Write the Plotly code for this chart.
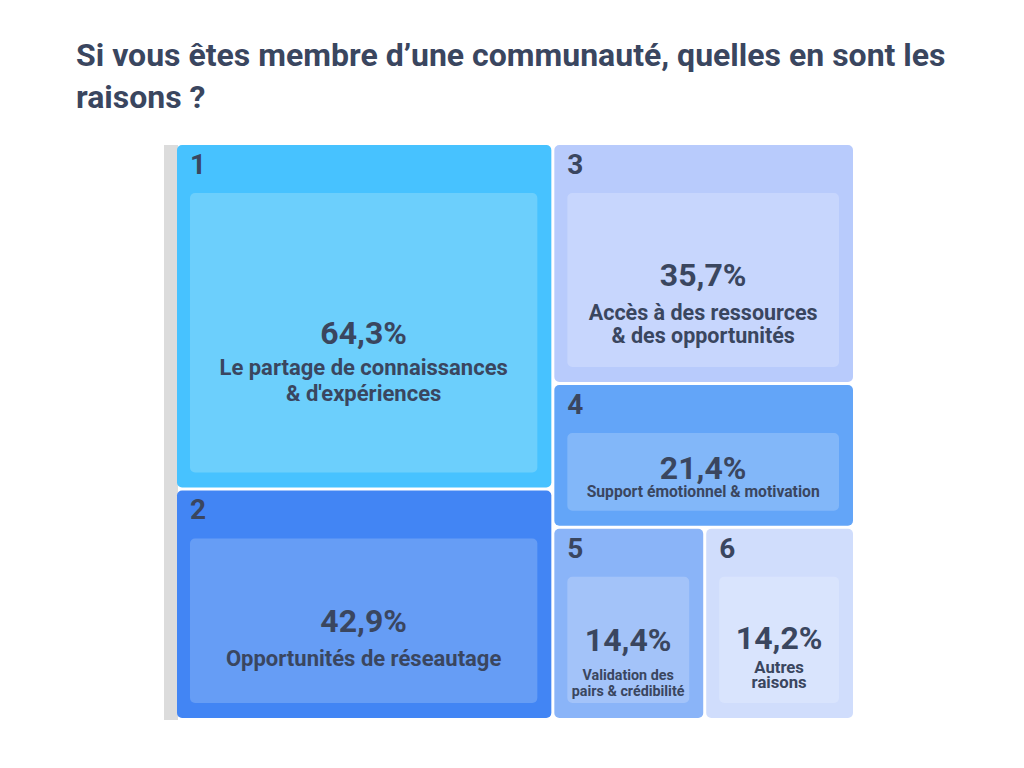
import plotly.graph_objects as go

# ---- data ----
ranks = ["1", "2", "3", "4", "5", "6"]
pcts = [64.3, 42.9, 35.7, 21.4, 14.4, 14.2]
pct_labels = ["64,3%", "42,9%", "35,7%", "21,4%", "14,4%", "14,2%"]
reasons = [
    "Le partage de connaissances<br>& d'expériences",
    "Opportunités de réseautage",
    "Accès à des ressources<br>& des opportunités",
    "Support émotionnel & motivation",
    "Validation des<br>pairs & crédibilité",
    "Autres<br>raisons",
]
title_text = "Si vous êtes membre d’une communauté, quelles en sont les<br>raisons ?"

# ---- styles ----
tile_colors = ["#47C2FF", "#4285F4", "#B8CBFC", "#63A5F8", "#8AB4F8", "#D0DDFC"]
inner_colors = ["#6CCFFC", "#669DF5", "#C7D6FD", "#82B7F9", "#A3C3F9", "#D9E4FD"]
reason_sizes = [22, 22, 21.5, 15.7, 14.3, 16.7]   # px
gap_first = [31, 33, 34, 19, 28, 24]               # px, pct baseline -> first label baseline
gap_next = [26, 26, 23, 16, 15, 16.5]              # px, between label lines
centre_adj = [0, 0, -10, -10, 0, -4]               # px, fine vertical tuning of each block
pct_size = 32
num_size = 28
text_color = "#3A465F"
clear = "rgba(0,0,0,0)"
font_family = "Roboto"
BASE = 2.0                 # tiny base font -> fine line steps
STEP = 1.3 * BASE          # plotly line spacing


def spacer(px):
    """transparent tiny glyph lines giving `px` pixels of vertical advance"""
    n = max(1, round(px / STEP))
    return "<br>".join([f"<span style='font-size:{BASE}px;color:{clear}'>.</span>"] * n) + "<br>"


def body(pct, reason, L, g1, g2, adj):
    lines = reason.split("<br>")
    k = len(lines)
    up = 22.8 + g1 + (k - 1) * g2 - 0.683 * L + adj   # keep the % line centred in the tile
    out = f"<span style='font-size:{L}px;color:{clear}'>.</span><br>" + spacer(up - STEP)
    out += f"<span style='font-size:{pct_size}px'>{pct}</span><br>" + spacer(g1 - STEP)
    out += f"<span style='font-size:{L}px'>{lines[0]}</span>"
    for ln in lines[1:]:
        out += "<br>" + spacer(g2 - STEP) + f"<span style='font-size:{L}px'>{ln}</span>"
    return out


n = len(ranks)
parent_ids = ["p" + r for r in ranks]
child_ids = ["c" + r for r in ranks]
ids = parent_ids + child_ids
labels = ranks + [r.replace("<br>", " ") for r in reasons]
parents = [""] * n + parent_ids
values = pcts + pcts

header_text = ranks + [""] * n
body_text = [""] * n + [body(p, r, L, g1, g2, a) for p, r, L, g1, g2, a in
                        zip(pct_labels, reasons, reason_sizes, gap_first, gap_next, centre_adj)]

common = dict(
    ids=ids, labels=labels, parents=parents, values=values,
    branchvalues="total", sort=True,
    tiling=dict(pad=3, packing="binary"),
    pathbar=dict(visible=False),
    texttemplate="%{text}",
    hoverinfo="skip",
)
pad = dict(t=48, l=13, r=14, b=15)

fig = go.Figure()
fig.add_trace(go.Treemap(
    **common,
    text=header_text,
    textposition="top left",
    textfont=dict(family=font_family, size=num_size, color=[text_color] * n + [clear] * n, weight="bold"),
    marker=dict(colors=tile_colors + inner_colors, pad=pad,
                cornerradius=5, line=dict(color="white", width=0), depthfade=False),
))
fig.add_trace(go.Treemap(
    **common,
    text=body_text,
    textposition="middle center",
    textfont=dict(family=font_family, size=BASE, color=[clear] * n + [text_color] * n, weight="bold"),
    marker=dict(colors=[clear] * len(ids), pad=pad,
                cornerradius=5, line=dict(color=clear, width=0), depthfade=False),
))

# light grey strip at the left edge of the chart
fig.add_shape(type="rect", xref="paper", yref="paper", x0=0.0, x1=0.0199, y0=0.0205, y1=0.9246,
              fillcolor="#DCDCDC", line=dict(width=0), layer="below")

fig.update_layout(
    width=1024, height=768,
    margin=dict(l=156, r=165, t=89, b=43),
    paper_bgcolor="white",
    plot_bgcolor="white",
    title=dict(text=title_text, x=68 / 1024, xanchor="left", xref="container",
               y=1 - 58 / 768, yanchor="top", yref="container",
               font=dict(family=font_family, size=32, color=text_color, weight="bold")),
    showlegend=False,
)

fig.write_html("out.html")
